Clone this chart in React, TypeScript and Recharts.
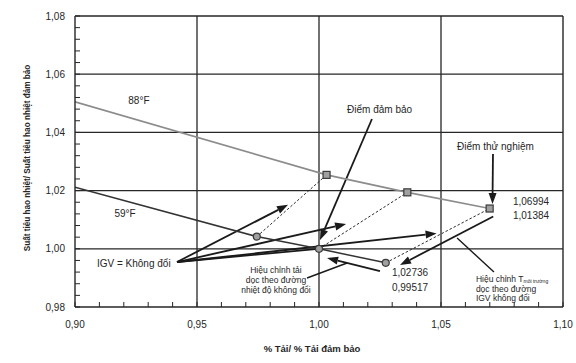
import { LineChart, Line, XAxis, YAxis, ReferenceLine, ReferenceDot } from 'recharts';

const FONT = '"Liberation Sans", Arial, sans-serif';
const INK = '#262626';

// axis ticks (minor ticks every 0.01 / 0.004, labels only on the major ones)
const xTicks = [0.9, 0.91, 0.92, 0.93, 0.94, 0.95, 0.96, 0.97, 0.98, 0.99, 1.0, 1.01, 1.02, 1.03, 1.04, 1.05, 1.06, 1.07, 1.08, 1.09, 1.1];
const yTicks = [0.98, 0.984, 0.988, 0.992, 0.996, 1.0, 1.004, 1.008, 1.012, 1.016, 1.02, 1.024, 1.028, 1.032, 1.036, 1.04, 1.044, 1.048, 1.052, 1.056, 1.06, 1.064, 1.068, 1.072, 1.076, 1.08];
const xGrid = [0.95, 1.0, 1.05];
const yGrid = [1.0, 1.02, 1.04, 1.06];

// curves
const line88 = [
  { x: 0.9, y: 1.0505 },
  { x: 1.0031, y: 1.0254 },
  { x: 1.0362, y: 1.0194 },
  { x: 1.06994, y: 1.01384 },
];
const line59 = [
  { x: 0.9, y: 1.0212 },
  { x: 0.9745, y: 1.0042 },
  { x: 1.0, y: 1.0 },
  { x: 1.02736, y: 0.99517 },
];
const dottedLinks = [
  [{ x: 0.9745, y: 1.0042 }, { x: 1.0031, y: 1.0254 }],
  [{ x: 1.0, y: 1.0 }, { x: 1.0362, y: 1.0194 }],
  [{ x: 1.02736, y: 0.99517 }, { x: 1.06994, y: 1.01384 }],
];

// annotation arrows and leader lines
const arrows = [
  { from: { x: 0.9418, y: 0.99546 }, to: { x: 0.9873, y: 1.0151 }, head: true, w: 1.8 },
  { from: { x: 0.9418, y: 0.99546 }, to: { x: 1.0111, y: 1.0085 }, head: true, w: 1.8 },
  { from: { x: 0.9418, y: 0.99546 }, to: { x: 1.0482, y: 1.0053 }, head: true, w: 1.8 },
  { from: { x: 0.9418, y: 0.99546 }, to: { x: 0.9996, y: 1.0 }, head: false, w: 1.8 },
  { from: { x: 1.0217, y: 1.0446 }, to: { x: 1.0004, y: 1.003 }, head: true, w: 1.8 },
  { from: { x: 1.0713, y: 1.0326 }, to: { x: 1.0711, y: 1.0154 }, head: true, w: 1.8 },
  { from: { x: 1.0714, y: 1.0111 }, to: { x: 1.0332, y: 0.99443 }, head: true, w: 1.8 },
  { from: { x: 1.0717, y: 0.99203 }, to: { x: 1.0566, y: 1.00371 }, head: false, w: 1.4 },
  { from: { x: 1.025, y: 0.99237 }, to: { x: 1.0033, y: 0.99684 }, head: true, w: 1.8 },
  { from: { x: 0.9951, y: 0.98997 }, to: { x: 1.0115, y: 0.99512 }, head: false, w: 1.4 },
];

const notes = [
  { text: '88°F', x: 0.9262, y: 1.0511, anchor: 'middle', size: 10 },
  { text: '59°F', x: 0.9205, y: 1.0123, anchor: 'middle', size: 10 },
  { text: 'IGV = Không đổi', x: 0.909, y: 0.99512, anchor: 'start', size: 10 },
  { text: 'Điểm đảm bảo', x: 1.0115, y: 1.0477, anchor: 'start', size: 10 },
  { text: 'Điểm thử nghiệm', x: 1.0566, y: 1.035, anchor: 'start', size: 10 },
  { text: '1,06994', x: 1.0795, y: 1.0161, anchor: 'start', size: 10 },
  { text: '1,01384', x: 1.0795, y: 1.0113, anchor: 'start', size: 10 },
  { text: '1,02736', x: 1.0299, y: 0.992, anchor: 'start', size: 10 },
  { text: '0,99517', x: 1.0299, y: 0.98653, anchor: 'start', size: 10 },
  { text: 'Hiệu chỉnh tải', x: 0.98238, y: 0.99271, anchor: 'middle', size: 8.5 },
  { text: 'dọc theo đường', x: 0.98238, y: 0.98928, anchor: 'middle', size: 8.5 },
  { text: 'nhiệt độ không đổi', x: 0.98238, y: 0.98584, anchor: 'middle', size: 8.5 },
  { text: 'dọc theo đường', x: 1.0643, y: 0.98619, anchor: 'start', size: 8.5 },
  { text: 'IGV không đổi', x: 1.0643, y: 0.98309, anchor: 'start', size: 8.5 },
];

const fmt = (v: number) => v.toFixed(2).replace('.', ',');

const XTick = (p: any) => {
  const v = p.payload.value;
  const major = Math.abs(v * 20 - Math.round(v * 20)) < 1e-6;
  return (
    <g>
      <line x1={p.x} y1={p.y} x2={p.x} y2={p.y - 5} stroke={INK} strokeWidth={1} />
      {major && (
        <text x={p.x} y={p.y + 17} textAnchor="middle" dominantBaseline="central" fontSize={10} fill={INK} fontFamily={FONT}>
          {fmt(v)}
        </text>
      )}
    </g>
  );
};

const YTick = (p: any) => {
  const v = p.payload.value;
  const major = Math.abs(v * 50 - Math.round(v * 50)) < 1e-6;
  return (
    <g>
      <line x1={p.x} y1={p.y} x2={p.x + 5} y2={p.y} stroke={INK} strokeWidth={1} />
      {major && (
        <text x={p.x - 10} y={p.y} textAnchor="end" dominantBaseline="central" fontSize={10} fill={INK} fontFamily={FONT}>
          {fmt(v)}
        </text>
      )}
    </g>
  );
};

const arrowShape = (w: number, head: boolean) => (p: any) => {
  const { x1, y1, x2, y2 } = p;
  const a = Math.atan2(y2 - y1, x2 - x1);
  const L = head ? 11 : 0;
  const W = 4;
  const bx = x2 - L * Math.cos(a);
  const by = y2 - L * Math.sin(a);
  return (
    <g>
      <line x1={x1} y1={y1} x2={bx} y2={by} stroke="#1a1a1a" strokeWidth={w} />
      {head && (
        <polygon
          points={`${x2},${y2} ${bx - W * Math.sin(a)},${by + W * Math.cos(a)} ${bx + W * Math.sin(a)},${by - W * Math.cos(a)}`}
          fill="#1a1a1a"
        />
      )}
    </g>
  );
};

const squareDot = (p: any) =>
  p.index === 0 ? (
    <g key={`s${p.index}`} />
  ) : (
    <rect key={`s${p.index}`} x={p.cx - 3.5} y={p.cy - 3.5} width={7} height={7} fill="#a0a0a0" stroke="#3a3a3a" strokeWidth={1.2} />
  );

const circleDot = (p: any) =>
  p.index === 0 ? (
    <g key={`c${p.index}`} />
  ) : (
    <circle key={`c${p.index}`} cx={p.cx} cy={p.cy} r={3.5} fill="#a0a0a0" stroke="#3a3a3a" strokeWidth={1.2} />
  );

export default function App() {
  return (
    <div style={{ position: 'absolute', left: 0, top: 0, width: 576, height: 363, overflow: 'hidden', background: '#fff', fontFamily: FONT }}>
      <LineChart width={576} height={363} margin={{ top: 16, right: 13, bottom: 0, left: 0 }}>
        <XAxis
          type="number"
          dataKey="x"
          domain={[0.9, 1.1]}
          ticks={xTicks}
          interval={0}
          allowDataOverflow
          height={56}
          tickSize={0}
          tickMargin={0}
          tickLine={false}
          tick={XTick}
          axisLine={{ stroke: INK, strokeWidth: 1.4 }}
        />
        <YAxis
          type="number"
          dataKey="y"
          domain={[0.98, 1.08]}
          ticks={yTicks}
          interval={0}
          allowDataOverflow
          width={75}
          tickSize={0}
          tickMargin={0}
          tickLine={false}
          tick={YTick}
          axisLine={{ stroke: INK, strokeWidth: 1.4 }}
        />
        {xGrid.map(v => (
          <ReferenceLine key={`gx${v}`} x={v} stroke={INK} strokeWidth={1.3} ifOverflow="visible" />
        ))}
        {yGrid.map(v => (
          <ReferenceLine key={`gy${v}`} y={v} stroke={INK} strokeWidth={1.3} ifOverflow="visible" />
        ))}
        <ReferenceLine x={1.1} stroke={INK} strokeWidth={1.4} ifOverflow="visible" />
        <ReferenceLine y={1.08} stroke={INK} strokeWidth={1.4} ifOverflow="visible" />

        {dottedLinks.map((seg, i) => (
          <Line
            key={`d${i}`}
            data={seg}
            dataKey="y"
            type="linear"
            stroke="#2a2a2a"
            strokeWidth={1}
            strokeDasharray="2.5 2"
            dot={false}
            isAnimationActive={false}
          />
        ))}

        {arrows.map((a, i) => (
          <ReferenceLine key={`a${i}`} segment={[a.from, a.to]} ifOverflow="visible" shape={arrowShape(a.w, a.head)} />
        ))}

        <Line data={line88} dataKey="y" type="linear" stroke="#8c8c8c" strokeWidth={1.6} dot={squareDot} isAnimationActive={false} />
        <Line data={line59} dataKey="y" type="linear" stroke="#333" strokeWidth={1.5} dot={circleDot} isAnimationActive={false} />

        {notes.map((n, i) => (
          <ReferenceDot
            key={`n${i}`}
            x={n.x}
            y={n.y}
            r={0}
            ifOverflow="visible"
            shape={(p: any) => (
              <text x={p.cx} y={p.cy} textAnchor={n.anchor} dominantBaseline="central" fontSize={n.size} fill={INK} fontFamily={FONT}>
                {n.text}
              </text>
            )}
          />
        ))}
        <ReferenceDot
          x={1.0643}
          y={0.98962}
          r={0}
          ifOverflow="visible"
          shape={(p: any) => (
            <text x={p.cx} y={p.cy} dominantBaseline="central" fontSize={8.5} fill={INK} fontFamily={FONT}>
              Hiệu chỉnh T
              <tspan fontSize={5} dy={2}>môi trường</tspan>
            </text>
          )}
        />
      </LineChart>
      <div
        style={{
          position: 'absolute',
          left: 26,
          top: 158,
          transform: 'translate(-50%, -50%) rotate(-90deg) scaleX(0.86)',
          whiteSpace: 'nowrap',
          fontSize: 9.5,
          fontWeight: 700,
          lineHeight: '11px',
          color: INK,
        }}
      >
        Suất tiêu hao nhiệt/ Suất tiêu hao nhiệt đảm bảo
      </div>
      <div
        style={{
          position: 'absolute',
          left: 312,
          top: 348,
          transform: 'translate(-50%, -50%)',
          whiteSpace: 'nowrap',
          fontSize: 9.5,
          fontWeight: 700,
          lineHeight: '11px',
          color: INK,
        }}
      >
        % Tải/ % Tải đảm bảo
      </div>
    </div>
  );
}
